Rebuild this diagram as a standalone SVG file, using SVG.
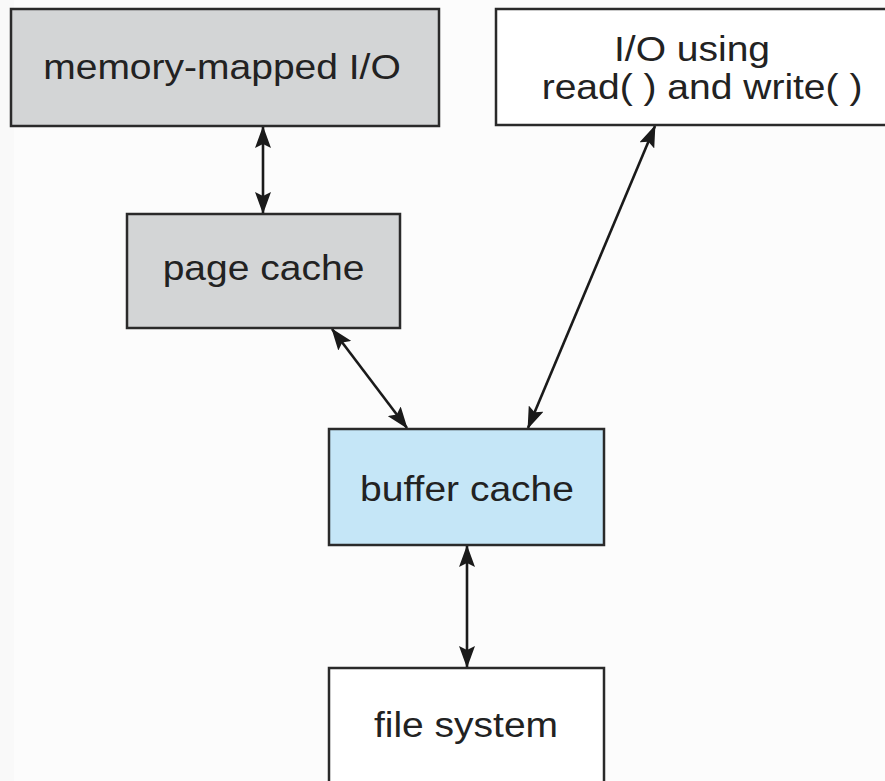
<svg xmlns="http://www.w3.org/2000/svg" width="885" height="781" viewBox="0 0 885 781">
<defs>
<style>
.box{stroke:#2a2a2a;stroke-width:2.5}
.gray{fill:#d3d5d6}
.white{fill:#ffffff}
.blue{fill:#c5e6f7}
.lbl{font-family:"Liberation Sans",Arial,sans-serif;font-size:39px;fill:#222;text-anchor:middle}
.conn{stroke:#1a1a1a;stroke-width:2.6;fill:none;marker-start:url(#ah);marker-end:url(#ah)}
</style>
<marker id="ah" viewBox="0 0 22 16" refX="21" refY="8" markerWidth="22" markerHeight="16" markerUnits="userSpaceOnUse" orient="auto-start-reverse">
<path d="M0,0 L22,8 L0,16 L4,8 z" fill="#1a1a1a"/>
</marker>
</defs>
<rect width="885" height="781" fill="#fcfcfc"/>
<rect width="14" height="781" fill="#f9f9f9"/>
<g id="connectors">
<line class="conn" x1="263" y1="127" x2="263" y2="213"/>
<line class="conn" x1="332" y1="329" x2="407" y2="428"/>
<line class="conn" x1="655" y1="126" x2="528" y2="428"/>
<line class="conn" x1="467" y1="546" x2="467" y2="667"/>
</g>
<g id="memory-mapped-io">
<rect class="box gray" x="11" y="9" width="428" height="117"/>
<text class="lbl" transform="translate(222,79) scale(1,0.92)">memory-mapped I/O</text>
</g>
<g id="io-read-write">
<rect class="box white" x="496" y="9" width="420" height="116"/>
<text class="lbl" transform="translate(692,61) scale(1,0.92)">I/O using</text>
<text class="lbl" transform="translate(702,99) scale(1,0.92)">read( ) and write( )</text>
</g>
<g id="page-cache">
<rect class="box gray" x="127" y="214" width="273" height="114"/>
<text class="lbl" transform="translate(263.5,280) scale(1,0.92)">page cache</text>
</g>
<g id="buffer-cache">
<rect class="box blue" x="329" y="429" width="275" height="116"/>
<text class="lbl" transform="translate(467,501) scale(1,0.92)">buffer cache</text>
</g>
<g id="file-system">
<rect class="box white" x="329" y="668" width="275" height="130"/>
<text class="lbl" transform="translate(466,737) scale(1,0.92)">file system</text>
</g>
</svg>
